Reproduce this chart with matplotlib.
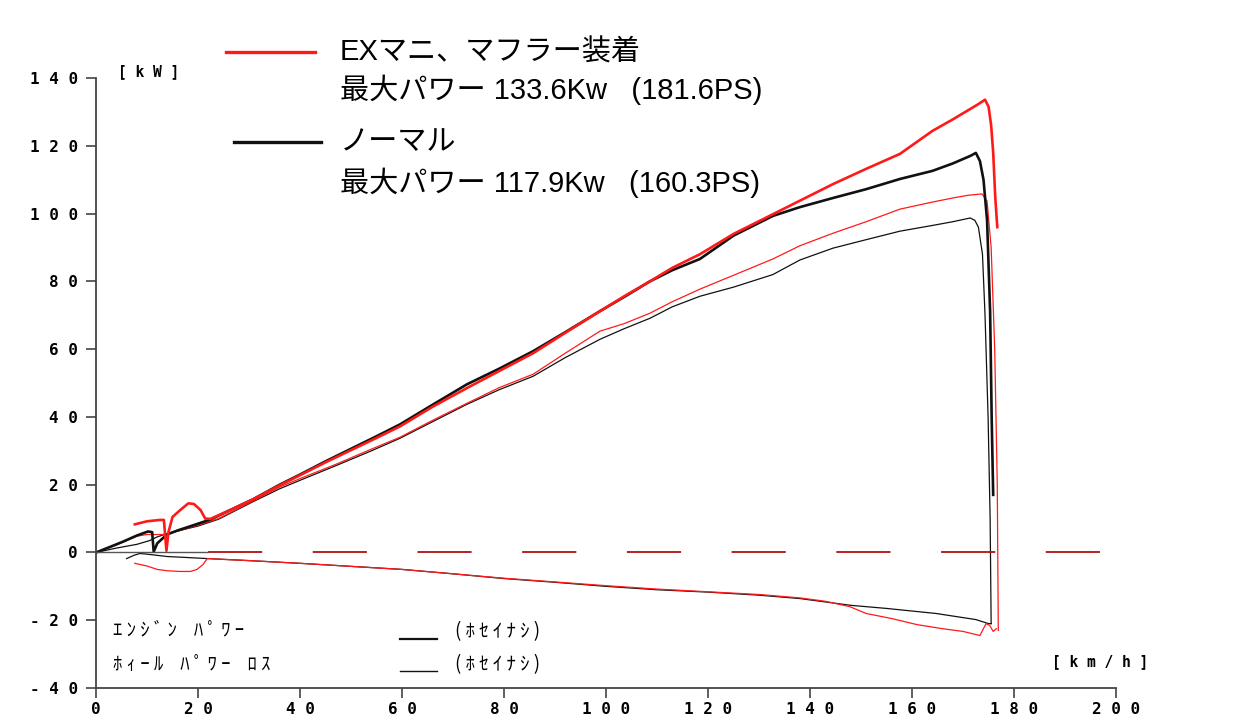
import matplotlib
matplotlib.use("Agg")
import matplotlib.pyplot as plt
from matplotlib.lines import Line2D
from matplotlib.ticker import FuncFormatter

# --- data (km/h, kW) ---
# ノーマル: engine power (thick black)
nor_eng_x = [0, 3, 5.3, 8, 10.2, 11.0, 11.3, 12, 13.9, 16, 18.4, 22.4, 26, 30.8, 36, 40, 45, 50, 55, 59.6,
             66, 72.7, 79, 85.7, 92, 98.8, 104, 108.6, 113, 118.4, 125, 132.7, 138, 144.5, 151, 157.6, 164,
             168, 171.4, 172.5, 173.3, 174.0, 174.7, 175.3, 175.6, 175.9]
nor_eng_y = [0, 1.8, 3.2, 5.0, 6.2, 6.0, 0.2, 2.7, 5.3, 6.5, 7.7, 9.7, 12.3, 15.7, 20.0, 23.0, 26.9, 30.6, 34.3, 37.8,
             43.6, 49.6, 54.2, 59.4, 65.0, 71.2, 75.8, 80.0, 83.3, 86.6, 93.5, 99.3, 101.9, 104.6, 107.2, 110.2, 112.6,
             114.8, 117.0, 117.9, 115.5, 110, 98, 71, 40, 17]

# EXマニ、マフラー装着: engine power (thick red)
ex_eng_x = [7.6, 10, 12.5, 13.3, 13.8, 14.2, 15, 16.5, 18.1, 19.2, 20.5, 21.4, 22.4, 26, 30.8, 36, 40, 45, 50, 55,
            59.6, 66, 72.7, 79, 85.7, 92, 98.8, 104, 108.6, 113, 118.4, 125, 132.7, 138, 144.5, 151, 157.6, 164,
            168, 171, 173, 174.3, 175.0, 175.5, 175.9, 176.3, 176.7]
ex_eng_y = [8.3, 9.2, 9.6, 9.6, 0.5, 6, 10.5, 12.5, 14.5, 14.3, 12.5, 10, 9.9, 12.3, 15.7, 19.8, 22.8, 26.6, 30.2, 33.8,
            37.2, 43, 48.5, 53.5, 58.8, 64.8, 71.2, 76, 80, 84, 88, 94, 99.8, 103.8, 108.7, 113.2, 117.6, 124.4,
            127.8, 130.5, 132.3, 133.6, 131.5, 126, 118, 105, 96]

# ノーマル: wheel power (thin black)
nor_whl_x = [0, 4, 8, 10.5, 12, 14, 17, 20, 24, 30.8, 36, 40, 47, 54, 59.6, 66, 72.7, 79, 85.7, 92, 98.8, 103.5,
             108.6, 113, 118.4, 125, 132.7, 138, 144.5, 151, 157.6, 164, 168, 171.4, 172.3, 173.0, 173.8, 174.3,
             174.9, 175.3, 175.5]
nor_whl_y = [0, 1.3, 2.4, 3.5, 4.6, 5.6, 6.7, 7.8, 9.8, 15.0, 18.8, 21.3, 25.6, 30, 33.7, 38.6, 43.7, 48, 52, 57.5,
             62.9, 66, 69.1, 72.5, 75.6, 78.3, 82, 86.3, 89.8, 92.3, 94.8, 96.5, 97.6, 98.7, 98.0, 96, 88, 70,
             40, 10, -21]

# EXマニ、マフラー装着: wheel power (thin red)
ex_whl_x = [0, 4, 8, 10, 13, 14, 16, 18, 20, 22, 24, 30.8, 36, 40, 47, 54, 59.6, 66, 72.7, 79, 85.7, 92, 98.8,
            103.5, 108.6, 113, 118.4, 125, 132.7, 138, 144.5, 151, 157.6, 164, 168, 171, 173.7, 174.7, 175.5,
            176.2, 176.7, 176.9]
ex_whl_y = [0, 2.2, 4.8, 5.3, 5.3, 5.5, 6.3, 7.2, 8.1, 9, 10, 15.2, 19.3, 21.8, 26, 30.5, 34, 39, 44, 48.6, 52.6,
            58.8, 65.3, 67.5, 70.6, 74, 77.7, 81.8, 86.6, 90.5, 94.2, 97.6, 101.3, 103.4, 104.6, 105.4, 105.8,
            103.7, 90, 60, 20, -23]

# power loss (negative side)
nor_loss_x = [6, 7.5, 8.6, 10, 14, 18, 21.8, 30, 40, 50, 60, 70, 80, 90, 100, 110, 120, 130, 138, 148, 154.9,
              164.7, 172.5, 175, 175.5]
nor_loss_y = [-1.8, -0.8, -0.3, -0.5, -1.2, -1.5, -1.8, -2.4, -3.2, -4.1, -5.0, -6.3, -7.7, -8.8, -10, -11,
              -11.7, -12.6, -13.6, -15.6, -16.5, -18.0, -19.8, -21.0, -21.0]

ex_loss_x = [7.6, 10, 12, 14, 16.5, 18.5, 19.8, 21, 21.8, 30, 40, 50, 60, 70, 80, 90, 100, 110, 120, 130, 138,
             143, 147.8, 151, 156, 161, 166, 170, 173.3, 174.5, 175.2, 175.9, 176.5]
ex_loss_y = [-3.2, -4.0, -5.0, -5.4, -5.6, -5.6, -5.0, -3.5, -1.8, -2.4, -3.2, -4.1, -5.0, -6.3, -7.6, -8.7,
             -9.8, -10.8, -11.6, -12.4, -13.4, -14.4, -16.0, -18.0, -19.5, -21.3, -22.5, -23.3, -24.5, -21.0,
             -21.5, -23.3, -22.5]

x_ticks = [0, 20, 40, 60, 80, 100, 120, 140, 160, 180, 200]
y_ticks = [-40, -20, 0, 20, 40, 60, 80, 100, 120, 140]

RED = "#ff1a1a"
BLK = "#111111"
JP = ["Liberation Sans", "Noto Sans CJK JP"]
KANA = ["Noto Sans CJK JP"]
MONO = "DejaVu Sans Mono"

fig = plt.figure(figsize=(12.49, 7.27), dpi=100)
ax = fig.add_axes([0.0769, 0.0536, 0.8167, 0.8391])

ax.plot(nor_whl_x, nor_whl_y, color=BLK, lw=0.9)
ax.plot(ex_whl_x, ex_whl_y, color=RED, lw=0.9)
ax.plot(nor_loss_x, nor_loss_y, color=BLK, lw=0.9)
ax.plot(ex_loss_x, ex_loss_y, color=RED, lw=0.9)
ax.plot(nor_eng_x, nor_eng_y, color=BLK, lw=1.9)
ax.plot(ex_eng_x, ex_eng_y, color=RED, lw=1.9)

# dashed zero reference line
ax.hlines(0, 22, 202, colors="#b01010", lw=1.3, linestyles=(0, (30, 28)), clip_on=False)
ax.hlines(0, 0, 22, colors="#555555", lw=1.0)

ax.set_xlim(0, 200)
ax.set_ylim(-40, 140)
ax.set_xticks(x_ticks)
ax.set_yticks(y_ticks)
spaced = FuncFormatter(lambda v, p: " ".join(str(int(v))))
ax.xaxis.set_major_formatter(spaced)
ax.yaxis.set_major_formatter(spaced)
for s in ("top", "right"):
    ax.spines[s].set_visible(False)
for s in ("left", "bottom"):
    ax.spines[s].set_color("#444444")
    ax.spines[s].set_linewidth(1.3)
ax.tick_params(direction="out", length=7, width=1.2, color="#444444")
ax.tick_params(axis="y", pad=6)
ax.tick_params(axis="x", pad=3)
for lab in ax.get_xticklabels() + ax.get_yticklabels():
    lab.set_fontfamily(MONO)
    lab.set_fontweight("bold")
    lab.set_fontsize(11.5)

# unit labels
ax.text(4.3, 142, "[ k W ]", fontfamily=MONO, fontweight="bold", fontsize=10.5, va="center", clip_on=False)
ax.text(187.5, -32.3, "[ k m / h ]", fontfamily=MONO, fontweight="bold", fontsize=10.5, va="center")

# bottom legend (dyno print style)
ax.text(3.3, -23.0, "ｴ ﾝ ｼ ﾞ ﾝ    ﾊ ﾟ ﾜ ｰ", fontfamily=KANA, fontsize=13.5, va="center")
ax.text(3.3, -33.0, "ﾎ ｨ ｰ ﾙ    ﾊ ﾟ ﾜ ｰ    ﾛ ｽ", fontfamily=KANA, fontsize=13.5, va="center")
ax.text(70.4, -23.3, "( ﾎ ｾ ｲ ﾅ ｼ )", fontfamily=KANA, fontsize=13.5, va="center")
ax.text(70.4, -33.0, "( ﾎ ｾ ｲ ﾅ ｼ )", fontfamily=KANA, fontsize=13.5, va="center")
ax.plot([59.6, 66.9], [-25.4, -25.4], color=BLK, lw=1.6)
ax.plot([59.6, 66.9], [-34.9, -34.9], color=BLK, lw=1.0)

# top legend
fig.add_artist(Line2D([0.181, 0.252], [0.928, 0.928], color=RED, lw=2.4, transform=fig.transFigure))
fig.add_artist(Line2D([0.187, 0.257], [0.805, 0.805], color=BLK, lw=2.4, transform=fig.transFigure))
fig.text(0.272, 0.928, "EXマニ、マフラー装着", fontfamily=JP, fontsize=21, va="center")
fig.text(0.272, 0.876, "最大パワー 133.6Kw   (181.6PS)", fontfamily=JP, fontsize=21, va="center")
fig.text(0.272, 0.805, "ノーマル", fontfamily=JP, fontsize=21, va="center")
fig.text(0.272, 0.748, "最大パワー 117.9Kw   (160.3PS)", fontfamily=JP, fontsize=21, va="center")

fig.savefig("out.png", dpi=100, facecolor="white")
